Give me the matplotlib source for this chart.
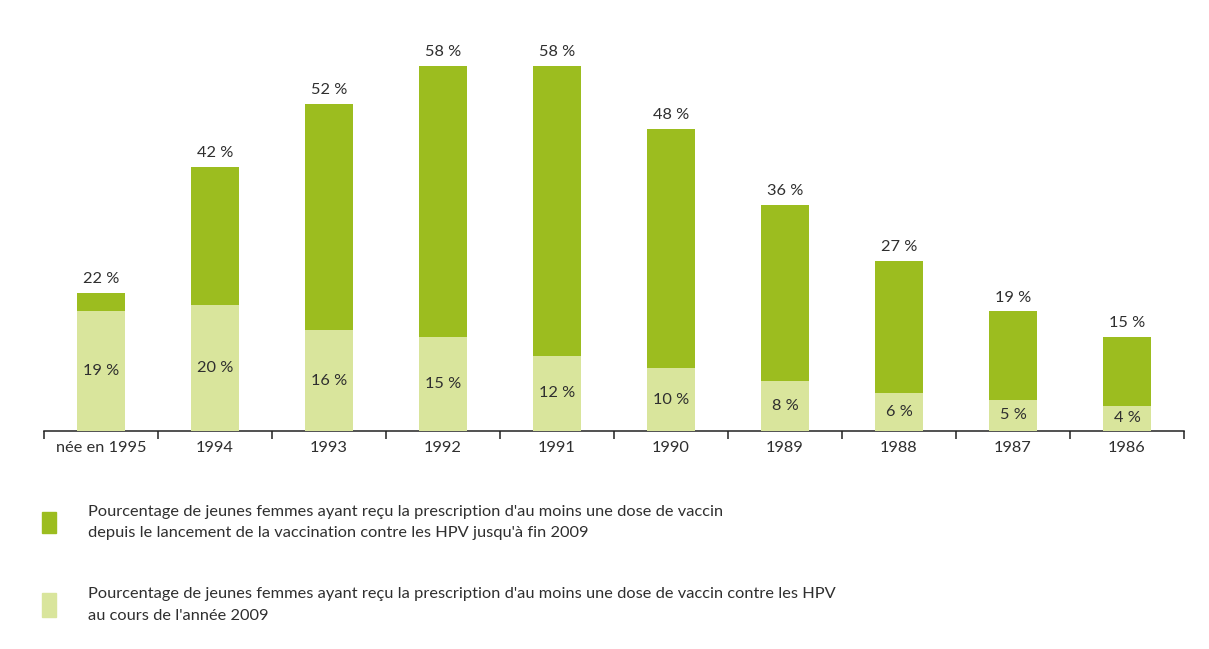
import matplotlib
matplotlib.use('Agg')
import matplotlib.pyplot as plt
from matplotlib.patches import Rectangle

plt.rcParams['font.family'] = ['Lato', 'DejaVu Sans']

# data
categories = ['née en 1995', '1994', '1993', '1992', '1991',
              '1990', '1989', '1988', '1987', '1986']
total_pct = [22, 42, 52, 58, 58, 48, 36, 27, 19, 15]
year2009_pct = [19, 20, 16, 15, 12, 10, 8, 6, 5, 4]

legend_labels = [
    "Pourcentage de jeunes femmes ayant reçu la prescription d'au moins une dose de vaccin\n"
    "depuis le lancement de la vaccination contre les HPV jusqu'à fin 2009",
    "Pourcentage de jeunes femmes ayant reçu la prescription d'au moins une dose de vaccin contre les HPV\n"
    "au cours de l'année 2009",
]

DARK = '#9cbd1f'
LIGHT = '#d9e59c'
TXT = '#2f2f2f'
FS = 11.8

W, H = 1209, 649
fig = plt.figure(figsize=(W / 100, H / 100), dpi=100)
ax = fig.add_axes([44 / W, (H - 431) / H, 1140 / W, 390 / H])

x = list(range(len(categories)))
bw = 0.42
ax.bar(x, total_pct, width=bw, color=DARK, zorder=2)
ax.bar(x, year2009_pct, width=bw, color=LIGHT, zorder=3)

for xi, t, l in zip(x, total_pct, year2009_pct):
    ax.annotate(f'{t} %', (xi, t), xytext=(0, 5), textcoords='offset points',
                ha='center', va='bottom', fontsize=FS, color=TXT)
    ax.text(xi, l / 2, f'{l} %', ha='center', va='center', fontsize=FS, color=TXT, zorder=4)

ax.set_xlim(-0.5, len(categories) - 0.5)
ax.set_ylim(0, 62)

# boundaries get the tick marks, centers get the labels
ax.set_xticks([i - 0.5 for i in range(len(categories) + 1)])
ax.set_xticklabels([])
ax.tick_params(axis='x', which='major', length=6, width=1.1, direction='out', color='#222222')
ax.set_xticks(x, minor=True)
ax.set_xticklabels(categories, minor=True, fontsize=FS, color=TXT)
ax.tick_params(axis='x', which='minor', length=0, pad=7)
ax.set_yticks([])

for side in ['top', 'right', 'left']:
    ax.spines[side].set_visible(False)
ax.spines['bottom'].set_linewidth(1.1)
ax.spines['bottom'].set_color('#222222')

# legend drawn by hand
for (ytop, ybot), color, label in zip([(512, 533), (593, 617)], [DARK, LIGHT], legend_labels):
    fig.add_artist(Rectangle((42 / W, (H - ybot) / H), 14 / W, (ybot - ytop) / H,
                             transform=fig.transFigure, color=color))
    fig.text(88 / W, (H - (ytop + ybot) / 2) / H, label, ha='left', va='center',
             fontsize=FS, color=TXT, linespacing=1.7)

fig.savefig('out.png', dpi=100)
